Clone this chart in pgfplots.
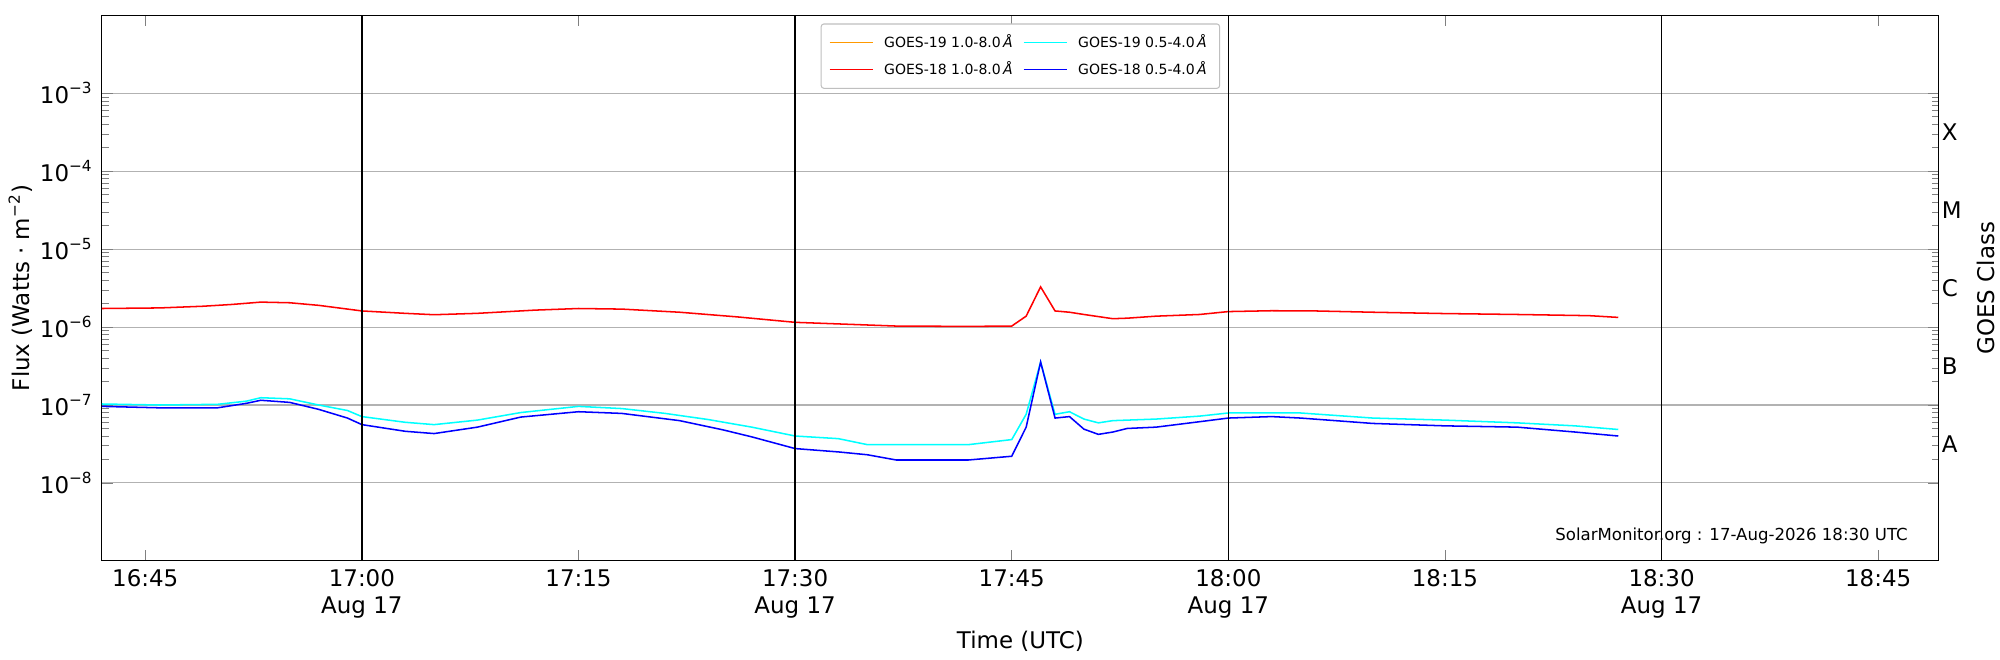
\documentclass[border=0pt]{standalone}
\usepackage{pgfplots}
\pgfplotsset{compat=1.18}
\usepackage{fontspec}
\setmainfont{DejaVu Sans}
\begin{document}
\begin{tikzpicture}[font=\fontsize{9}{10.5}\selectfont]
\begin{axis}[
  at={(39.5pt,35pt)}, anchor=south west,
  scale only axis, width=720.5pt, height=214pt,
  xmin=-18, xmax=109.2, ymode=log, ymin=1e-9, ymax=1e-2,
  xtick={-15,0,15,30,45,60,75,90,105},
  xticklabels={16:45,{17:00\\Aug 17},17:15,{17:30\\Aug 17},17:45,{18:00\\Aug 17},18:15,{18:30\\Aug 17},18:45},
  xticklabel style={align=center},
  ytick={1e-8,1e-7,1e-6,1e-5,1e-4,1e-3},
  yticklabels={10\textsuperscript{−8},10\textsuperscript{−7},10\textsuperscript{−6},10\textsuperscript{−5},10\textsuperscript{−4},10\textsuperscript{−3}},
  tick align=inside, ymajorgrids, major grid style={gray!60},
  xtick pos=both, ytick pos=both,
  minor y tick num=0,
  xlabel={Time (UTC)}, ylabel={Flux (Watts · m\textsuperscript{−2})},
  xlabel style={yshift=2pt}, ylabel style={yshift=-4pt},
  clip=false,
  legend style={at={(0.5,0.985)},anchor=north, font=\fontsize{5.5}{6.5}\selectfont, draw=gray!50, rounded corners=1pt, column sep=2pt},
  legend columns=2, legend cell align=left,
]
\addlegendimage{color=orange!80!yellow, line width=0.4pt}
\addlegendentry{GOES-19 1.0-8.0\,\textit{Å}}
\addlegendimage{color={rgb,1:red,0;green,1;blue,1}, line width=0.5pt}
\addlegendentry{GOES-19 0.5-4.0\,\textit{Å}}
\addplot[red, line width=0.6pt] coordinates {
(-18,1.73e-6)(-14,1.76e-6)(-11,1.85e-6)(-9,1.95e-6)(-7,2.09e-6)(-5,2.05e-6)(-3,1.9e-6)(0,1.61e-6)(3,1.5e-6)(5,1.44e-6)(8,1.5e-6)(12,1.65e-6)(15,1.73e-6)(18,1.7e-6)(22,1.55e-6)(26,1.35e-6)(30,1.15e-6)(34,1.08e-6)(37,1.03e-6)(42,1.02e-6)(45,1.03e-6)(46,1.38e-6)(47,3.28e-6)(48,1.61e-6)(49,1.55e-6)(50,1.45e-6)(52,1.28e-6)(53,1.3e-6)(55,1.38e-6)(58,1.45e-6)(60,1.58e-6)(63,1.62e-6)(66,1.61e-6)(70,1.55e-6)(75,1.49e-6)(80,1.45e-6)(85,1.4e-6)(87,1.33e-6)};
\addlegendentry{GOES-18 1.0-8.0\,\textit{Å}}
\addplot[color={rgb,1:red,0;green,1;blue,1}, line width=0.6pt, forget plot] coordinates {
(-18,1.03e-7)(-14,1.0e-7)(-10,1.02e-7)(-8,1.12e-7)(-7,1.24e-7)(-5,1.2e-7)(-3,1.0e-7)(-1,8.5e-8)(0,7.1e-8)(3,6e-8)(5,5.6e-8)(8,6.4e-8)(11,8e-8)(15,9.6e-8)(18,9e-8)(21,7.8e-8)(24,6.5e-8)(27,5.2e-8)(30,4.0e-8)(33,3.7e-8)(35,3.1e-8)(38,3.1e-8)(42,3.1e-8)(45,3.6e-8)(46,7.6e-8)(47,3.56e-7)(48,7.6e-8)(49,8.2e-8)(50,6.6e-8)(51,5.9e-8)(52,6.3e-8)(55,6.6e-8)(58,7.2e-8)(60,7.9e-8)(65,7.9e-8)(70,6.8e-8)(75,6.4e-8)(80,5.9e-8)(84,5.4e-8)(87,4.85e-8)};
\addplot[blue, line width=0.6pt] coordinates {
(-18,9.6e-8)(-14,9.2e-8)(-10,9.2e-8)(-8,1.05e-7)(-7,1.15e-7)(-5,1.08e-7)(-3,8.8e-8)(-1,6.8e-8)(0,5.6e-8)(3,4.6e-8)(5,4.3e-8)(8,5.2e-8)(11,7e-8)(15,8.2e-8)(18,7.8e-8)(22,6.3e-8)(25,4.8e-8)(27,3.9e-8)(30,2.76e-8)(33,2.5e-8)(35,2.3e-8)(37,1.97e-8)(42,1.97e-8)(45,2.2e-8)(46,5.2e-8)(47,3.56e-7)(48,6.8e-8)(49,7.1e-8)(50,4.9e-8)(51,4.2e-8)(52,4.5e-8)(53,5.0e-8)(55,5.2e-8)(58,6.1e-8)(60,6.8e-8)(63,7.1e-8)(65,6.8e-8)(70,5.8e-8)(75,5.4e-8)(80,5.2e-8)(84,4.5e-8)(87,4.0e-8)};
\addlegendentry{GOES-18 0.5-4.0\,\textit{Å}}
\draw[black, line width=0.5pt] (axis cs:0,1e-9) -- (axis cs:0,1e-2);
\draw[black, line width=0.5pt] (axis cs:30,1e-9) -- (axis cs:30,1e-2);
\draw[black, line width=0.5pt] (axis cs:60,1e-9) -- (axis cs:60,1e-2);
\draw[black, line width=0.5pt] (axis cs:90,1e-9) -- (axis cs:90,1e-2);
\node[anchor=west, inner sep=1pt] at (axis cs:109.2,3.16e-4) {X};
\node[anchor=west, inner sep=1pt] at (axis cs:109.2,3.16e-5) {M};
\node[anchor=west, inner sep=1pt] at (axis cs:109.2,3.16e-6) {C};
\node[anchor=west, inner sep=1pt] at (axis cs:109.2,3.16e-7) {B};
\node[anchor=west, inner sep=1pt] at (axis cs:109.2,3.16e-8) {A};
\node[rotate=90, inner sep=0pt] at (rel axis cs:1.0255,0.5) {GOES Class};
\node[anchor=south east, font=\fontsize{6.5}{8}\selectfont] at (rel axis cs:0.988,0.015) {SolarMonitor.org : 17-Aug-2026 18:30 UTC};
\end{axis}
\path (0,0) rectangle (784pt,255pt);
\end{tikzpicture}
\end{document}
